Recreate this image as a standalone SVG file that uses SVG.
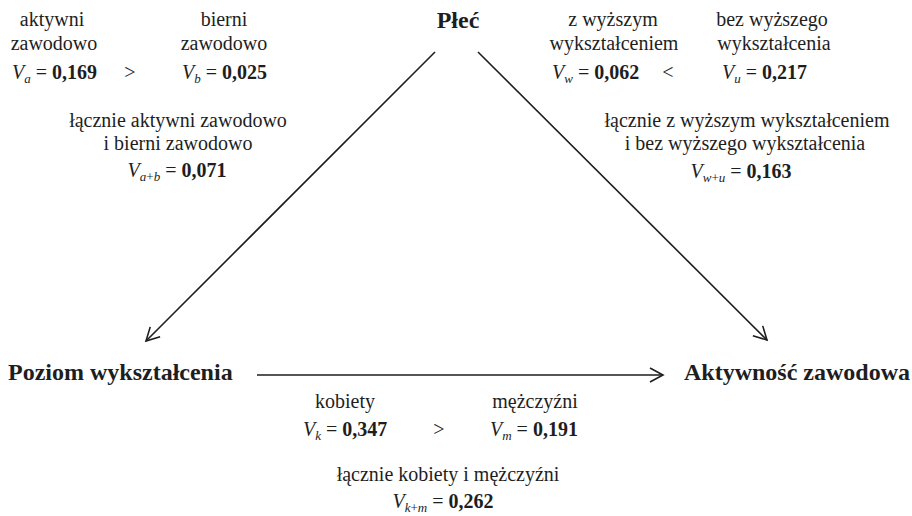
<svg xmlns="http://www.w3.org/2000/svg" width="912" height="516" viewBox="0 0 912 516" font-family="'Liberation Serif', Tinos, 'Times New Roman', Times, 'Nimbus Roman', 'DejaVu Serif', serif">
  <style>
    text { font-family: 'Liberation Serif', Tinos, 'Times New Roman', Times, 'Nimbus Roman', 'DejaVu Serif', serif; font-size: 20px; fill: #1e1e1e; }
    .node { font-weight: bold; font-size: 24px; }
    .m { text-anchor: middle; }
    .it { font-style: italic; }
    .sub { font-style: italic; font-size: 13px; }
    .up { font-style: normal; font-size: 13px; }
    .b { font-weight: bold; }
    .conn { stroke: #1e1e1e; stroke-width: 1.6; fill: none; marker-end: url(#arrow); }
  </style>
  <defs>
    <marker id="arrow" markerUnits="userSpaceOnUse" markerWidth="20" markerHeight="20" viewBox="-16 -10 20 20" refX="0" refY="0" orient="auto">
      <path d="M-13,-7 L0,0 L-13,7" fill="none" stroke="#1e1e1e" stroke-width="1.6"/>
    </marker>
  </defs>
  <rect width="912" height="516" fill="#ffffff"/>

  <!-- connectors -->
  <g id="connectors">
    <line class="conn" x1="435" y1="52" x2="146" y2="341"/>
    <line class="conn" x1="478" y1="52" x2="767" y2="340"/>
    <line class="conn" x1="257" y1="375" x2="663" y2="375"/>
  </g>

  <!-- nodes -->
  <g id="plec">
    <text class="node m" x="458" y="28">Płeć</text>
  </g>
  <g id="poziom-wyksztalcenia">
    <text class="node" x="8" y="380">Poziom wykształcenia</text>
  </g>
  <g id="aktywnosc-zawodowa">
    <text class="node" x="684" y="380">Aktywność zawodowa</text>
  </g>

  <!-- edge label: Płeć → Poziom wykształcenia -->
  <g id="label-left">
    <text class="m" x="52" y="26">aktywni</text>
    <text class="m" x="54" y="50">zawodowo</text>
    <text x="12" y="79"><tspan class="it">V</tspan><tspan class="sub" dy="4">a</tspan><tspan dy="-4"> = </tspan><tspan class="b">0,169</tspan></text>
    <text class="m" x="130" y="79">&gt;</text>
    <text class="m" x="224" y="26">bierni</text>
    <text class="m" x="224" y="50">zawodowo</text>
    <text x="182" y="79"><tspan class="it">V</tspan><tspan class="sub" dy="4">b</tspan><tspan dy="-4"> = </tspan><tspan class="b">0,025</tspan></text>
    <text class="m" x="178" y="127">łącznie aktywni zawodowo</text>
    <text class="m" x="178" y="150">i bierni zawodowo</text>
    <text class="m" x="177" y="177"><tspan class="it">V</tspan><tspan class="sub" dy="4">a</tspan><tspan class="up">+</tspan><tspan class="sub">b</tspan><tspan dy="-4"> = </tspan><tspan class="b">0,071</tspan></text>
  </g>

  <!-- edge label: Płeć → Aktywność zawodowa -->
  <g id="label-right">
    <text class="m" x="613" y="26">z wyższym</text>
    <text class="m" x="614" y="50">wykształceniem</text>
    <text x="552" y="79"><tspan class="it">V</tspan><tspan class="sub" dy="4">w</tspan><tspan dy="-4"> = </tspan><tspan class="b">0,062</tspan></text>
    <text class="m" x="668" y="79">&lt;</text>
    <text class="m" x="772" y="26">bez wyższego</text>
    <text class="m" x="774" y="50">wykształcenia</text>
    <text x="722" y="79"><tspan class="it">V</tspan><tspan class="sub" dy="4">u</tspan><tspan dy="-4"> = </tspan><tspan class="b">0,217</tspan></text>
    <text class="m" x="747" y="127">łącznie z wyższym wykształceniem</text>
    <text class="m" x="745" y="150">i bez wyższego wykształcenia</text>
    <text class="m" x="741" y="178"><tspan class="it">V</tspan><tspan class="sub" dy="4">w</tspan><tspan class="up">+</tspan><tspan class="sub">u</tspan><tspan dy="-4"> = </tspan><tspan class="b">0,163</tspan></text>
  </g>

  <!-- edge label: Poziom wykształcenia → Aktywność zawodowa -->
  <g id="label-bottom">
    <text class="m" x="345" y="408">kobiety</text>
    <text x="303" y="436"><tspan class="it">V</tspan><tspan class="sub" dy="4">k</tspan><tspan dy="-4"> = </tspan><tspan class="b">0,347</tspan></text>
    <text class="m" x="439" y="436">&gt;</text>
    <text class="m" x="535" y="408">mężczyźni</text>
    <text x="490" y="436"><tspan class="it">V</tspan><tspan class="sub" dy="4">m</tspan><tspan dy="-4"> = </tspan><tspan class="b">0,191</tspan></text>
    <text class="m" x="448" y="481">łącznie kobiety i mężczyźni</text>
    <text class="m" x="443" y="508"><tspan class="it">V</tspan><tspan class="sub" dy="4">k</tspan><tspan class="up">+</tspan><tspan class="sub">m</tspan><tspan dy="-4"> = </tspan><tspan class="b">0,262</tspan></text>
  </g>
</svg>
